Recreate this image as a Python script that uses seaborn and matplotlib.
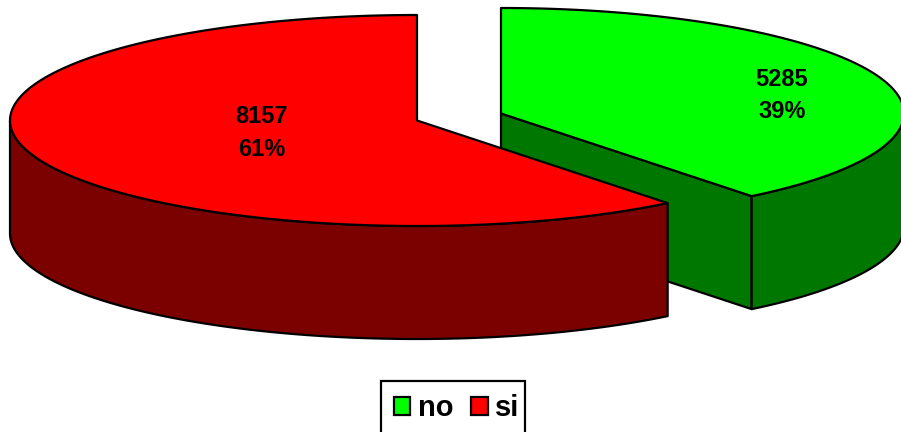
import numpy as np
import matplotlib
matplotlib.use("Agg")
import matplotlib.pyplot as plt
from matplotlib.patches import Polygon, Patch, Rectangle
import seaborn as sns

categories = ["no", "si"]
counts = [5285, 8157]
top_colors = ["#00ff00", "#ff0000"]
side_colors = ["#007800", "#7b0000"]

sns.set_theme(style="white")
plt.rcParams["font.family"] = ["Liberation Sans", "DejaVu Sans"]

RX, RX_LEFT, RY, DEPTH = 403, 407, 105.5, 113
centers = [(501, 113.5), (417, 120.5)]
LW = 1.6

fig = plt.figure(figsize=(9.01, 4.32), dpi=100)
ax = fig.add_axes([0, 0, 1, 1])
ax.set_xlim(0, 901)
ax.set_ylim(432, 0)
ax.axis("off")

shares = np.array(counts) / sum(counts)
edges = np.concatenate([[0], np.cumsum(shares)]) * 2 * np.pi


def rim(cx, cy, a0, a1, n=240):
    t = np.linspace(a0, a1, n)
    radius = np.where(np.sin(t) >= 0, RX, RX_LEFT)
    return t, np.column_stack([cx + radius * np.sin(t), cy - RY * np.cos(t)])


def draw_slice(i):
    cx, cy = centers[i]
    t, top = rim(cx, cy, edges[i], edges[i + 1])
    down = np.array([0, DEPTH])
    hub = np.array([cx, cy])
    style = dict(ec="black", lw=LW, joinstyle="round")
    # Cut face of the "no" slice, visible through the gap
    if i == 0:
        ax.add_patch(Polygon([hub, top[-1], top[-1] + down, hub + down],
                             fc=side_colors[i], **style))
    # Outer wall, only where the rim faces the viewer
    front = top[np.cos(t) <= 0]
    wall = np.vstack([front, (front + down)[::-1]])
    ax.add_patch(Polygon(wall, fc=side_colors[i], **style))
    # Top surface
    ax.add_patch(Polygon(np.vstack([hub, top]), fc=top_colors[i], **style))


draw_slice(0)
draw_slice(1)

label_pos = [(782, 95.5), (262, 133)]
for (x, y), n, s in zip(label_pos, counts, shares):
    ax.text(x, y, f"{n}\n{s:.0%}", ha="center", va="center", fontsize=17,
            fontweight="bold", color="black", linespacing=1.52)

# Legend frame runs past the bottom edge of the figure
ax.add_patch(Rectangle((381, 380.5), 144, 70, fc="white", ec="black", lw=LW))
handles = [Patch(fc=c, ec="black", lw=LW) for c in top_colors]
leg = ax.legend(handles, categories, loc="upper left",
                bbox_to_anchor=(393.5 / 901, 1 - 394 / 432),
                ncol=2, frameon=False, labelcolor="black",
                prop={"family": "Liberation Sans", "weight": "bold", "size": 21},
                handlelength=0.58, handleheight=0.58, handletextpad=0.25, columnspacing=0.6,
                borderpad=0, borderaxespad=0)

fig.savefig("out.png", dpi=100)
